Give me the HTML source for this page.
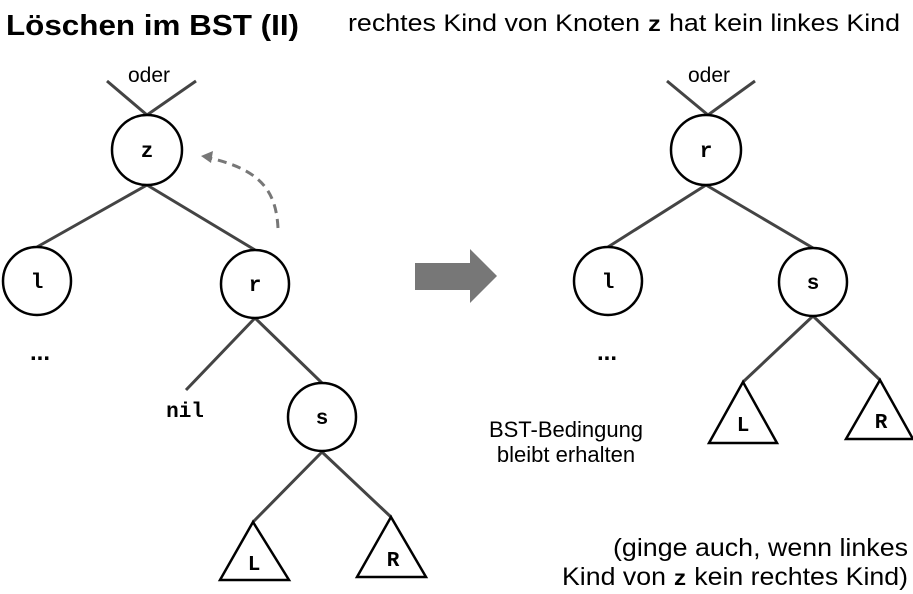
<!DOCTYPE html>
<html><head><style>
body{margin:0;background:#fff;}
svg{display:block}
.m{font-family:"Liberation Mono",monospace;font-weight:bold;font-size:21px}
.s{font-family:"Liberation Sans",sans-serif}
</style></head><body>
<svg width="913" height="594" viewBox="0 0 913 594">
<text x="6" y="35" class="s" font-size="29" font-weight="bold" textLength="293" lengthAdjust="spacingAndGlyphs">Löschen im BST (II)</text>
<text x="348" y="31" class="s" font-size="24" textLength="552" lengthAdjust="spacingAndGlyphs">rechtes Kind von Knoten <tspan class="m" font-size="22">z</tspan> hat kein linkes Kind</text>
<g stroke="#444" stroke-width="3" fill="none">
<path d="M107 81L147 115L196 81M147 185L37 247M147 185L255 250M255 318L186 390M255 318L322 383M322 452L253 522M322 452L391 517"/>
<path d="M667 81L708 115L755 81M706 185L608 247M706 185L813 248M813 316L743 382M813 316L880 380"/>
</g>
<g stroke="#000" stroke-width="2.5" fill="#fff">
<circle cx="147" cy="150" r="35"/><circle cx="37" cy="281" r="34"/><circle cx="255" cy="284" r="34"/><circle cx="322" cy="417" r="34"/>
<path d="M253 522L220 580L289 580Z"/><path d="M391 517L357 577L426 577Z"/>
<circle cx="706" cy="150" r="35"/><circle cx="608" cy="281" r="34"/><circle cx="813" cy="282" r="34"/>
<path d="M743 382L709 443L777 443Z"/><path d="M880 380L846 439L913 439Z"/>
</g>
<path d="M278 228C276 190 260 170 210 158" stroke="#777" stroke-width="3" fill="none" stroke-dasharray="9 6"/>
<path d="M201 156L213 151L211 163Z" fill="#777"/>
<path d="M415 263H470V249L497 276L470 303V290H415Z" fill="#777"/>
<g class="m" text-anchor="middle">
<text x="147" y="157">z</text><text x="37" y="288">l</text><text x="255" y="291">r</text><text x="322" y="424">s</text>
<text x="254" y="570">L</text><text x="393" y="566">R</text><text x="185" y="417">nil</text>
<text x="706" y="157">r</text><text x="608" y="288">l</text><text x="813" y="289">s</text>
<text x="743" y="431">L</text><text x="881" y="428">R</text>
</g>
<g class="s" text-anchor="middle" font-size="21">
<text x="149" y="82">oder</text><text x="709" y="82">oder</text>
<text x="566" y="437" font-size="22">BST-Bedingung</text><text x="566" y="462" font-size="22">bleibt erhalten</text>
</g>
<text x="40" y="360" class="s" font-size="24" font-weight="bold" text-anchor="middle">...</text>
<text x="607" y="360" class="s" font-size="24" font-weight="bold" text-anchor="middle">...</text>
<g class="s" font-size="25">
<text x="613" y="556" textLength="295" lengthAdjust="spacingAndGlyphs">(ginge auch, wenn linkes</text>
<text x="562" y="585" textLength="346" lengthAdjust="spacingAndGlyphs">Kind von <tspan class="m" font-size="23">z</tspan> kein rechtes Kind)</text>
</g>
</svg>
</body></html>
